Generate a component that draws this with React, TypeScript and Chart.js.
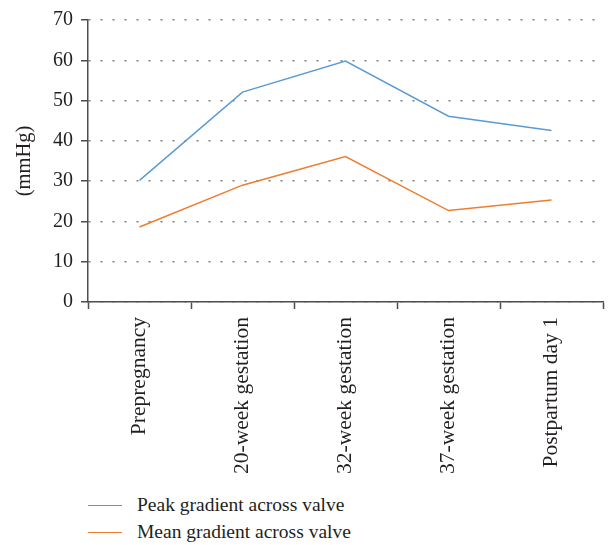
import React, { useEffect, useRef } from "react";
import { Chart, registerables } from "chart.js";

Chart.register(...registerables);

const categories = [
  "Prepregnancy",
  "20-week gestation",
  "32-week gestation",
  "37-week gestation",
  "Postpartum day 1",
];
const peakGradient = [30.2, 52.1, 59.8, 46.1, 42.6];
const meanGradient = [18.6, 29.0, 36.1, 22.7, 25.3];
const seriesNames = ["Peak gradient across valve", "Mean gradient across valve"];
const seriesColors = ["#5B9BD5", "#ED7D31"];
const yTitle = "(mmHg)";

const FONT = "'Liberation Serif', 'Times New Roman', serif";
const TEXT = "#231f20";
const AXIS = "#4d4d4d";

export default function App() {
  const ref = useRef<HTMLCanvasElement | null>(null);

  useEffect(() => {
    if (!ref.current) return;
    const chart = new Chart(ref.current, {
      type: "line",
      data: {
        labels: categories,
        datasets: [
          {
            label: seriesNames[0],
            data: peakGradient,
            borderColor: seriesColors[0],
            backgroundColor: seriesColors[0],
            borderWidth: 1.5,
            pointRadius: 0,
            tension: 0,
          },
          {
            label: seriesNames[1],
            data: meanGradient,
            borderColor: seriesColors[1],
            backgroundColor: seriesColors[1],
            borderWidth: 1.5,
            pointRadius: 0,
            tension: 0,
          },
        ],
      },
      options: {
        responsive: false,
        animation: false,
        layout: { padding: { top: 18, right: 8, left: 0, bottom: 0 } },
        plugins: {
          legend: { display: false },
          tooltip: { enabled: false },
        },
        scales: {
          x: {
            offset: true,
            afterFit: (s: any) => {
              s.height = 178;
            },
            grid: {
              offset: true,
              drawOnChartArea: false,
              tickLength: 7,
              tickColor: AXIS,
              tickWidth: 1.5,
            },
            border: { color: AXIS, width: 1.5 },
            ticks: {
              maxRotation: 90,
              minRotation: 90,
              padding: 8,
              color: TEXT,
              font: { family: FONT, size: 21.5 },
            },
          },
          y: {
            min: 0,
            max: 70,
            afterFit: (s: any) => {
              s.width = 88;
            },
            ticks: {
              stepSize: 10,
              padding: 8,
              color: TEXT,
              font: { family: FONT, size: 20 },
            },
            grid: {
              color: "#7f7f7f",
              lineWidth: 1.5,
              tickLength: 7,
              tickColor: AXIS,
              tickWidth: 1.5,
              tickBorderDash: [],
            },
            border: { color: AXIS, width: 1.5, dash: [2, 10], dashOffset: -12 },
            title: {
              display: true,
              text: yTitle,
              color: TEXT,
              font: { family: FONT, size: 20.5 },
              padding: { top: 12, bottom: 0 },
            },
          },
        },
      },
    });
    return () => chart.destroy();
  }, []);

  return (
    <div style={{ position: "fixed", left: 0, top: 0, width: 611, height: 545, background: "#fff" }}>
      <canvas ref={ref} width={611} height={480} style={{ display: "block" }} />
      {seriesNames.map((name, i) => (
        <div
          key={name}
          style={{
            position: "absolute",
            left: 88,
            top: 493 + i * 27,
            height: 24,
            display: "flex",
            alignItems: "center",
            fontFamily: FONT,
            fontSize: 19.5,
            color: TEXT,
            whiteSpace: "nowrap",
          }}
        >
          <span
            style={{
              display: "inline-block",
              width: 34,
              height: 0,
              borderTop: `1.5px solid ${seriesColors[i]}`,
              marginRight: 15,
            }}
          />
          {name}
        </div>
      ))}
    </div>
  );
}
